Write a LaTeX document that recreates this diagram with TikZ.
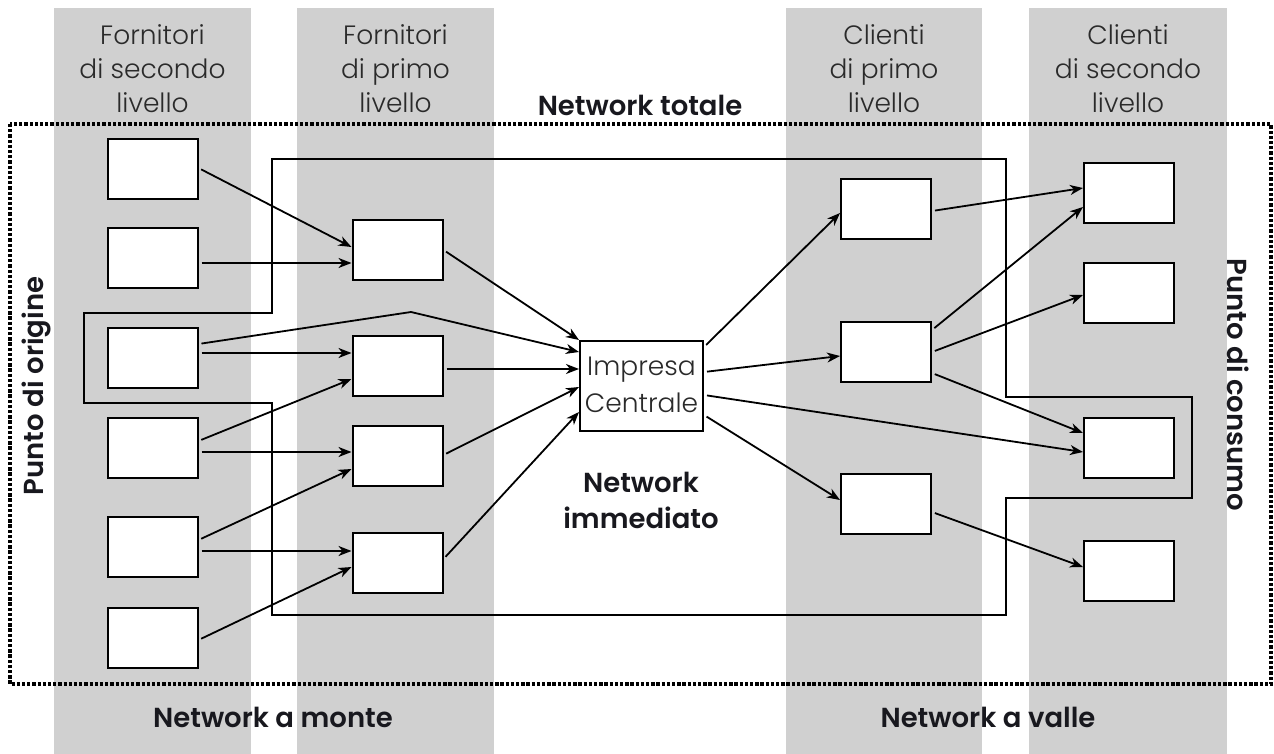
\documentclass[tikz,border=0pt]{standalone}
\usepackage{fontspec}
\usetikzlibrary{arrows.meta,calc}

% Typefaces: a light face for column headings, a heavier one for the network labels
\IfFontExistsTF{Poppins Light}
  {\newfontfamily\lightface{Poppins Light}}
  {\newfontfamily\lightface{Poppins}}
\IfFontExistsTF{Poppins SemiBold}
  {\newfontfamily\heavyface{Poppins SemiBold}}
  {\newfontfamily\heavyfacebase{Poppins}\newcommand\heavyface{\heavyfacebase\bfseries}}

\definecolor{bandgray}{RGB}{208,208,208}
\definecolor{lighttext}{RGB}{42,42,42}
\definecolor{darktext}{RGB}{24,24,30}

% stacked lines whose baseline is the first line
\newcommand\linesof[1]{\begin{tabular}[t]{@{}c@{}}#1\end{tabular}}

\begin{document}
\begin{tikzpicture}[x=1pt,y=-1pt,
  band/.style={fill=bandgray,draw=none},
  frame/.style={draw=black,line width=3.6pt,dash pattern=on 3.3pt off 1.9pt},
  boundary/.style={draw=black,line width=2pt},
  box/.style={draw=black,line width=2pt,fill=white,minimum width=90pt,minimum height=60pt,inner sep=0pt},
  centralbox/.style={box,minimum width=123pt,minimum height=90pt},
  flow/.style={line width=1.8pt,-{Stealth[length=13pt,width=10pt,inset=4pt]},shorten <=3pt},
  header/.style={font=\lightface\fontsize{26.5}{34}\selectfont,text=lighttext,anchor=base,inner sep=0pt},
  netlabel/.style={font=\heavyface\fontsize{27.5}{36}\selectfont,text=darktext,anchor=base,inner sep=0pt}
]
\useasboundingbox (0,0) rectangle (1274,754);

% tier bands
\fill[band] (54,8) rectangle (251,754);
\fill[band] (297,8) rectangle (494,754);
\fill[band] (786,8) rectangle (982,754);
\fill[band] (1029,8) rectangle (1227,754);

% whole network frame
\draw[frame] (10,124) rectangle (1271,684);

% immediate network boundary
\draw[boundary] (272,159) -- (1006,159) -- (1006,397) -- (1192,397) -- (1192,498)
  -- (1006,498) -- (1006,615) -- (272,615) -- (272,403) -- (84,403) -- (84,313)
  -- (272,313) -- cycle;

% second-tier suppliers
\node[box] (s1) at (152.5,169) {};
\node[box] (s2) at (152.5,258) {};
\node[box] (s3) at (152.5,358) {};
\node[box] (s4) at (152.5,448) {};
\node[box] (s5) at (152.5,547) {};
\node[box] (s6) at (152.5,638) {};
% first-tier suppliers
\node[box] (p1) at (397.5,250) {};
\node[box] (p2) at (397.5,366) {};
\node[box] (p3) at (397.5,456) {};
\node[box] (p4) at (397.5,563) {};
% focal company
\node[centralbox] (c) at (641.5,386) {};
\node[anchor=base,inner sep=0pt,font=\lightface\fontsize{26.5}{37}\selectfont,text=lighttext] (ctext) at (641.5,375) {\linesof{Impresa\\Centrale}};
% first-tier customers
\node[box] (k1) at (886,209) {};
\node[box] (k2) at (886,351.5) {};
\node[box] (k3) at (886,504) {};
% second-tier customers
\node[box] (q1) at (1129,193) {};
\node[box] (q2) at (1129,293) {};
\node[box] (q3) at (1129,448) {};
\node[box] (q4) at (1129,571) {};

\coordinate (bend) at (411,312);

% upstream flows
\draw[flow] ([yshift=1pt]s1.east) -- ([yshift=3pt]p1.west);
\draw[flow] ([yshift=-5pt]s2.east) -- ([yshift=-13pt]p1.west);
\draw[flow] ([yshift=14pt]s3.east) -- (bend) -- ([yshift=34pt]c.west);
\draw[flow] ([yshift=5pt]s3.east) -- ([yshift=13pt]p2.west);
\draw[flow] ([yshift=7pt]s4.east) -- ([yshift=-13pt]p2.west);
\draw[flow] ([yshift=-4pt]s4.east) -- ([yshift=4pt]p3.west);
\draw[flow] ([yshift=7pt]s5.east) -- ([yshift=-13pt]p3.west);
\draw[flow] ([yshift=-4pt]s5.east) -- ([yshift=12pt]p4.west);
\draw[flow] ([yshift=-2pt]s6.east) -- ([yshift=-4pt]p4.west);

\draw[flow] (p1.east) -- (c.north west);
\draw[flow] ([yshift=-3pt]p2.east) -- ([yshift=17pt]c.west);
\draw[flow] ([yshift=1pt]p3.east) -- ([yshift=-1pt]c.west);
\draw[flow] ([yshift=4pt]p4.east) -- ([yshift=-26pt]c.west);

% downstream flows
\draw[flow] ([yshift=39pt]c.east) -- ([yshift=-4pt]k1.west);
\draw[flow] ([yshift=14pt]c.east) -- ([yshift=-4.5pt]k2.west);
\draw[flow] ([yshift=-9pt]c.east) -- ([yshift=-4pt]q3.west);
\draw[flow] ([yshift=-29pt]c.east) -- ([yshift=4pt]k3.west);

\draw[flow] ([yshift=-2pt]k1.east) -- ([yshift=5pt]q1.west);
\draw[flow] ([yshift=21.5pt]k2.east) -- ([yshift=-14pt]q1.west);
\draw[flow] ([yshift=-0.5pt]k2.east) -- ([yshift=-2pt]q2.west);
\draw[flow] ([yshift=-21.5pt]k2.east) -- ([yshift=15pt]q3.west);
\draw[flow] ([yshift=-8pt]k3.east) -- ([yshift=4pt]q4.west);

% tier headings
\node[header] (h1) at (152.5,45) {\linesof{Fornitori\\di secondo\\livello}};
\node[header] (h2) at (395.5,45) {\linesof{Fornitori\\di primo\\livello}};
\node[header] (h3) at (884,45) {\linesof{Clienti\\di primo\\livello}};
\node[header] (h4) at (1128,45) {\linesof{Clienti\\di secondo\\livello}};

% network labels
\node[netlabel] (ltot) at (640,116) {Network totale};
\node[netlabel] (limm) at (641,492) {\linesof{Network\\immediato}};
\node[netlabel] (lup) at (273,727) {Network a monte};
\node[netlabel] (ldown) at (988,727) {Network a valle};
\node[netlabel,rotate=90] (lorig) at (43,386) {Punto di origine};
\node[netlabel,rotate=-90] (lcons) at (1227,385) {Punto di consumo};
\end{tikzpicture}
\end{document}
